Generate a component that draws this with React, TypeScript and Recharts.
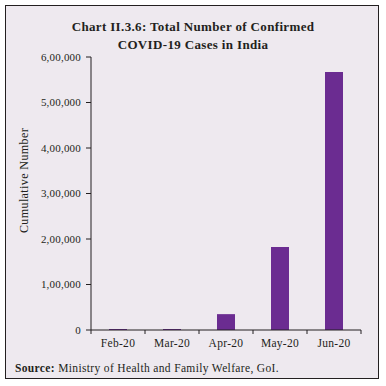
import React from "react";
import { BarChart, Bar, XAxis, YAxis } from "recharts";

// Datos: casos confirmados acumulados (fin de mes)
const months = ["Feb-20", "Mar-20", "Apr-20", "May-20", "Jun-20"];
const cases = [3, 1397, 34863, 182143, 566840];
const yTicks = [0, 100000, 200000, 300000, 400000, 500000, 600000];

const data = months.map((m, i) => ({ month: m, cases: cases[i] }));

const FONT = "'Liberation Serif', 'DejaVu Serif', serif";
const INK = "#231f20";
const BAR = "#6b2c91";
const BG = "#eee9ef";

// formato indio: 6,00,000
const fmtIndian = (v: number) => {
  const s = Math.round(v).toString();
  if (s.length <= 3) return s;
  const last3 = s.slice(-3);
  let rest = s.slice(0, -3);
  const parts: string[] = [];
  while (rest.length > 2) {
    parts.unshift(rest.slice(-2));
    rest = rest.slice(0, -2);
  }
  if (rest) parts.unshift(rest);
  return parts.join(",") + "," + last3;
};

// ticks del eje X en los bordes de cada categoría
const XTick = (props: any) => {
  const { x, y, payload, index, visibleTicksCount } = props;
  const half = payload && payload.offset ? payload.offset : 27;
  const isLast = index === (visibleTicksCount ?? months.length) - 1;
  return (
    <g>
      <line x1={x - half} x2={x - half} y1={y} y2={y + 4} stroke={INK} strokeWidth={1} />
      {isLast && (
        <line x1={x + half} x2={x + half} y1={y} y2={y + 4} stroke={INK} strokeWidth={1} />
      )}
      <text
        x={x}
        y={y + 17}
        textAnchor="middle"
        fontFamily={FONT}
        fontSize={11.5}
        letterSpacing={0.3}
        fill={INK}
      >
        {payload.value}
      </text>
    </g>
  );
};

const YLabel = (props: any) => {
  const vb = props.viewBox || { x: 0, y: 0, height: 0 };
  const cx = vb.x + 13;
  const cy = vb.y + vb.height / 2 - 13;
  return (
    <text
      x={cx}
      y={cy}
      transform={`rotate(-90, ${cx}, ${cy})`}
      textAnchor="middle"
      dominantBaseline="central"
      fontFamily={FONT}
      fontSize={12}
      letterSpacing={0.4}
      fill={INK}
    >
      Cumulative Number
    </text>
  );
};

export default function App() {
  return (
    <div
      style={{
        position: "absolute",
        left: 0,
        top: 0,
        width: 386,
        height: 386,
        background: "#ffffff",
      }}
    >
      <div
        style={{
          position: "absolute",
          left: 5,
          top: 5,
          width: 372,
          height: 372,
          border: `1.5px solid ${INK}`,
          background: BG,
        }}
      />
      <div
        style={{
          position: "absolute",
          left: 0,
          top: 18,
          width: 386,
          textAlign: "center",
          fontFamily: FONT,
          fontWeight: "bold",
          fontSize: 13,
          letterSpacing: 0.35,
          lineHeight: "18px",
          color: INK,
        }}
      >
        Chart II.3.6: Total Number of Confirmed
        <br />
        COVID-19 Cases in India
      </div>
      <div style={{ position: "absolute", left: 0, top: 0 }}>
        <BarChart
          width={386}
          height={386}
          data={data}
          margin={{ top: 57, right: 25, bottom: 26, left: 11 }}
        >
          <XAxis
            dataKey="month"
            axisLine={{ stroke: INK, strokeWidth: 1 }}
            tickLine={false}
            tickSize={0}
            tickMargin={0}
            height={30}
            interval={0}
            tick={<XTick />}
          />
          <YAxis
            domain={[0, 600000]}
            ticks={yTicks}
            width={80}
            axisLine={{ stroke: INK, strokeWidth: 1 }}
            tickLine={{ stroke: INK, strokeWidth: 1 }}
            tickSize={5}
            tickMargin={5}
            tickFormatter={fmtIndian}
            tick={{ fontFamily: FONT, fontSize: 11, letterSpacing: 0.2, fill: INK }}
            label={<YLabel />}
          />
          <Bar
            dataKey="cases"
            fill={BAR}
            barSize={18}
            minPointSize={1}
            isAnimationActive={false}
          />
        </BarChart>
      </div>
      <div
        style={{
          position: "absolute",
          left: 15,
          top: 362,
          fontFamily: FONT,
          fontSize: 11.5,
          letterSpacing: 0.35,
          color: INK,
          whiteSpace: "nowrap",
        }}
      >
        <b>Source:</b> Ministry of Health and Family Welfare, GoI.
      </div>
    </div>
  );
}
